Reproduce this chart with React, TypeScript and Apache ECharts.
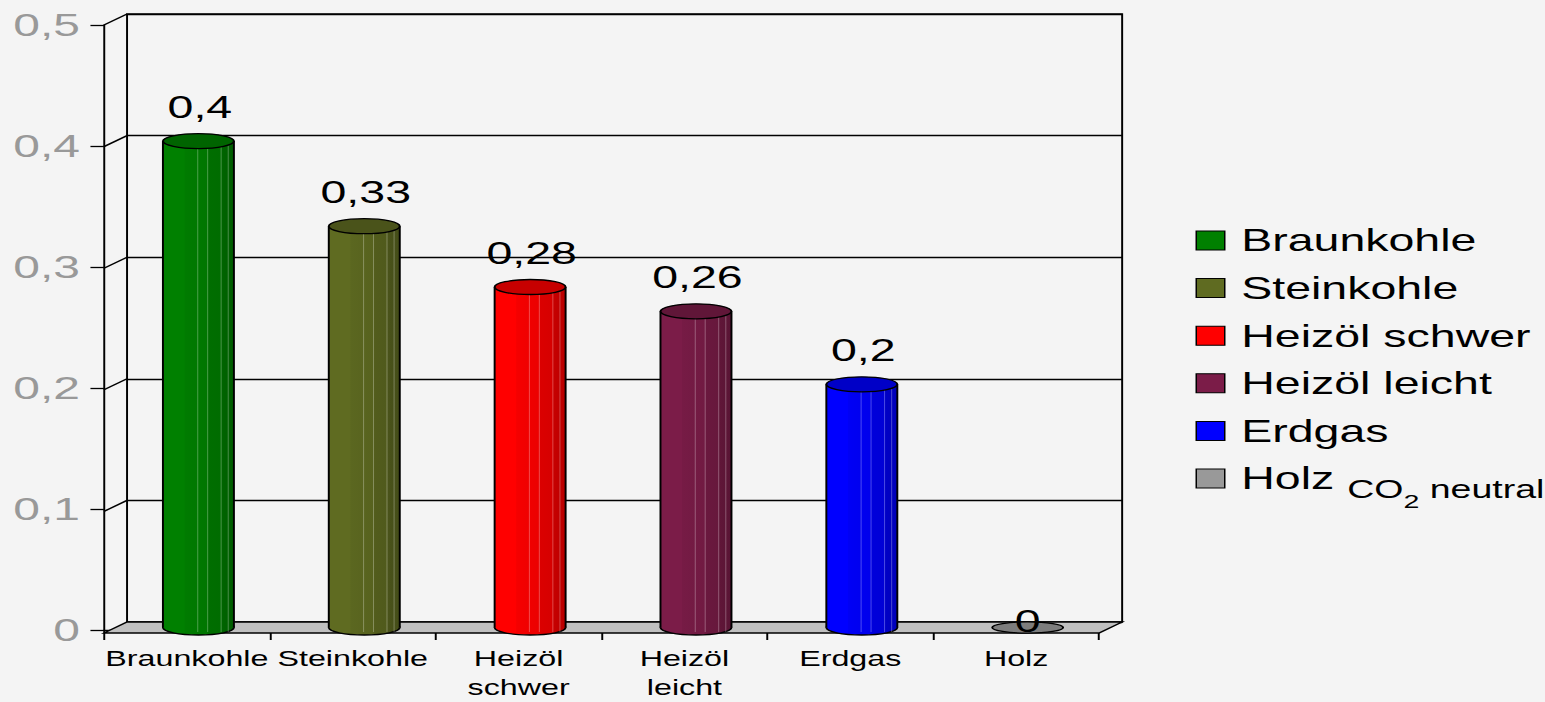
import React, { useEffect, useRef } from 'react';
import * as echarts from 'echarts';

// ---- data ----
const categories = ['Braunkohle', 'Steinkohle', 'Heizöl schwer', 'Heizöl leicht', 'Erdgas', 'Holz'];
const values = [0.4, 0.33, 0.28, 0.26, 0.2, 0];
const colors = ['#008000', '#5f6b21', '#ff0000', '#7b1c48', '#0000ff', '#999999'];
const yTicks = [0, 0.1, 0.2, 0.3, 0.4, 0.5];

// ---- layout / style constants ----
const STRETCH = 1.5; // the reference is horizontally stretched
const W = 1545 / STRETCH;
const H = 702;
const DX = 15.4; // depth offset (front is left/below back)
const DY = 11;
const FONT = "'Liberation Sans', Arial, sans-serif";
const LW = 1.3;

function shade(hex: string, f: number): string {
  const n = parseInt(hex.slice(1), 16);
  const r = Math.round(((n >> 16) & 255) * f);
  const g = Math.round(((n >> 8) & 255) * f);
  const b = Math.round((n & 255) * f);
  return `rgb(${r},${g},${b})`;
}
const fmt = (v: number) => String(Number(v.toFixed(2))).replace('.', ',');

export default function App() {
  const ref = useRef<HTMLDivElement>(null);
  useEffect(() => {
    if (!ref.current) return;
    const chart = echarts.init(ref.current, null, { renderer: 'svg' });
    const axisLine = { show: true, lineStyle: { color: '#000', width: LW } };

    const option: any = {
      animation: false,
      backgroundColor: '#f4f4f4',
      grid: [
        { left: 69.3, top: 25, width: 663.4, height: 608.5 },
        { left: 84.7, top: 14, width: 663.4, height: 608, show: true, borderColor: '#000', borderWidth: LW, backgroundColor: 'transparent' },
      ],
      xAxis: [
        {
          gridIndex: 0, type: 'category', data: categories, boundaryGap: true,
          axisLine, axisTick: { show: true, length: 10, lineStyle: { color: '#000', width: LW } },
          axisLabel: {
            interval: 0, margin: 14, fontSize: 21.5, lineHeight: 29, color: '#000', fontFamily: FONT,
            formatter: (s: string) => s.replace(' ', '\n'),
          },
          splitLine: { show: false },
        },
        { gridIndex: 1, type: 'category', data: categories, show: false },
      ],
      yAxis: [
        {
          gridIndex: 0, type: 'value', min: 0, max: 0.5, interval: 0.1,
          axisLine, axisTick: { show: true, length: 9, lineStyle: { color: '#000', width: LW } },
          axisLabel: { margin: 16, fontSize: 32, color: '#999', fontFamily: FONT, formatter: (v: number) => fmt(v) },
          splitLine: { show: false },
        },
        {
          gridIndex: 1, type: 'value', min: 0, max: 0.5, interval: 0.1,
          axisLine: { show: false }, axisTick: { show: false }, axisLabel: { show: false },
          splitLine: { show: true, lineStyle: { color: '#000', width: LW } },
        },
      ],
      legend: {
        orient: 'vertical', left: 797, top: 225, padding: 0, itemGap: 16.6,
        itemWidth: 19, itemHeight: 19, icon: 'rect',
        itemStyle: { borderColor: '#000', borderWidth: 1 },
        data: categories,
        formatter: (name: string) => (name === 'Holz' ? '{h|Holz }{co|CO}{sub|2}{co| neutral}' : name),
        textStyle: {
          fontSize: 31, fontFamily: FONT, color: '#000', lineHeight: 30, padding: [0, 0, 0, 6],
          rich: {
            h: { fontSize: 31, fontFamily: FONT, color: '#000', lineHeight: 30 },
            co: { fontSize: 25, fontFamily: FONT, color: '#000', lineHeight: 25, padding: [11, 0, -11, 0] },
            sub: { fontSize: 19, fontFamily: FONT, color: '#000', lineHeight: 19, padding: [23, 0, -23, 0] },
          },
        },
      },
      series: [
        ...categories.map((name, i) => ({
          name, type: 'bar', xAxisIndex: 1, yAxisIndex: 1, data: [], itemStyle: { color: colors[i] },
        })),
        {
          type: 'custom', xAxisIndex: 1, yAxisIndex: 1, z: 2, silent: true,
          data: yTicks.map((v) => [0, v]),
          renderItem: (params: any, api: any) => {
            const cs = params.coordSys;
            const v = api.value(1);
            const y = api.coord([0, v])[1];
            if (v === 0) {
              return {
                type: 'polygon',
                shape: { points: [[cs.x - DX, y + DY], [cs.x + cs.width - DX, y + DY], [cs.x + cs.width, y], [cs.x, y]] },
                style: { fill: '#c0c0c0', stroke: '#000', lineWidth: LW },
              };
            }
            return {
              type: 'line',
              shape: { x1: cs.x - DX, y1: y + DY, x2: cs.x, y2: y },
              style: { stroke: '#000', lineWidth: LW },
            };
          },
        },
        {
          type: 'custom', xAxisIndex: 1, yAxisIndex: 1, z: 3, silent: true,
          data: values.map((v, i) => [i, v]),
          renderItem: (params: any, api: any) => {
            const i = params.dataIndex;
            const v = api.value(1);
            const top = api.coord([api.value(0), v]);
            const base = api.coord([api.value(0), 0]);
            const band = api.size([1, 0])[0];
            const rx = band * 0.214;
            const ry = 7.5;
            const cx = top[0] - DX / 2;
            const ty = top[1] + DY / 2;
            const by = base[1] + DY / 2;
            const c = colors[i];
            const children: any[] = [];
            if (v > 0) {
              const grad = {
                type: 'linear', x: 0, y: 0, x2: 1, y2: 0,
                colorStops: [
                  { offset: 0, color: shade(c, 1) },
                  { offset: 0.3, color: shade(c, 1) },
                  { offset: 0.31, color: shade(c, 0.96) },
                  { offset: 0.63, color: shade(c, 0.92) },
                  { offset: 0.64, color: shade(c, 0.86) },
                  { offset: 0.82, color: shade(c, 0.84) },
                  { offset: 0.83, color: shade(c, 0.78) },
                  { offset: 1, color: shade(c, 0.72) },
                ],
              };
              children.push({ type: 'ellipse', shape: { cx, cy: by, rx, ry }, style: { fill: grad, stroke: '#000', lineWidth: LW } });
              children.push({ type: 'rect', shape: { x: cx - rx, y: ty, width: 2 * rx, height: by - ty }, style: { fill: grad } });
              [0.49, 0.63, 0.82, 0.92].forEach((f) => {
                const x = cx - rx + 2 * rx * f;
                children.push({ type: 'line', shape: { x1: x, y1: ty, x2: x, y2: by + ry * 0.6 }, style: { stroke: 'rgba(255,255,255,0.28)', lineWidth: 0.7 } });
              });
              children.push({ type: 'line', shape: { x1: cx - rx, y1: ty, x2: cx - rx, y2: by }, style: { stroke: '#000', lineWidth: LW } });
              children.push({ type: 'line', shape: { x1: cx + rx, y1: ty, x2: cx + rx, y2: by }, style: { stroke: '#000', lineWidth: LW } });
              children.push({ type: 'ellipse', shape: { cx, cy: ty, rx, ry }, style: { fill: shade(c, 0.78), stroke: '#000', lineWidth: LW } });
              children.push({
                type: 'text',
                style: { text: fmt(v), x: cx + 1, y: ty - ry - 11, align: 'center', verticalAlign: 'bottom', fontSize: 31, fontFamily: FONT, fill: '#000' },
              });
            } else {
              children.push({ type: 'ellipse', shape: { cx, cy: by, rx, ry: ry * 0.75 }, style: { fill: shade(c, 0.82), stroke: '#000', lineWidth: LW } });
              children.push({
                type: 'text',
                style: { text: fmt(v), x: cx, y: by - 6, align: 'center', verticalAlign: 'middle', fontSize: 31, fontFamily: FONT, fill: '#000' },
              });
            }
            return { type: 'group', children };
          },
        },
      ],
    };
    chart.setOption(option);
    return () => chart.dispose();
  }, []);

  return (
    <div style={{ position: 'absolute', left: 0, top: 0, width: 1545, height: 702, overflow: 'hidden', background: '#f4f4f4' }}>
      <div ref={ref} style={{ width: W, height: H, transform: `scaleX(${STRETCH})`, transformOrigin: '0 0' }} />
    </div>
  );
}
